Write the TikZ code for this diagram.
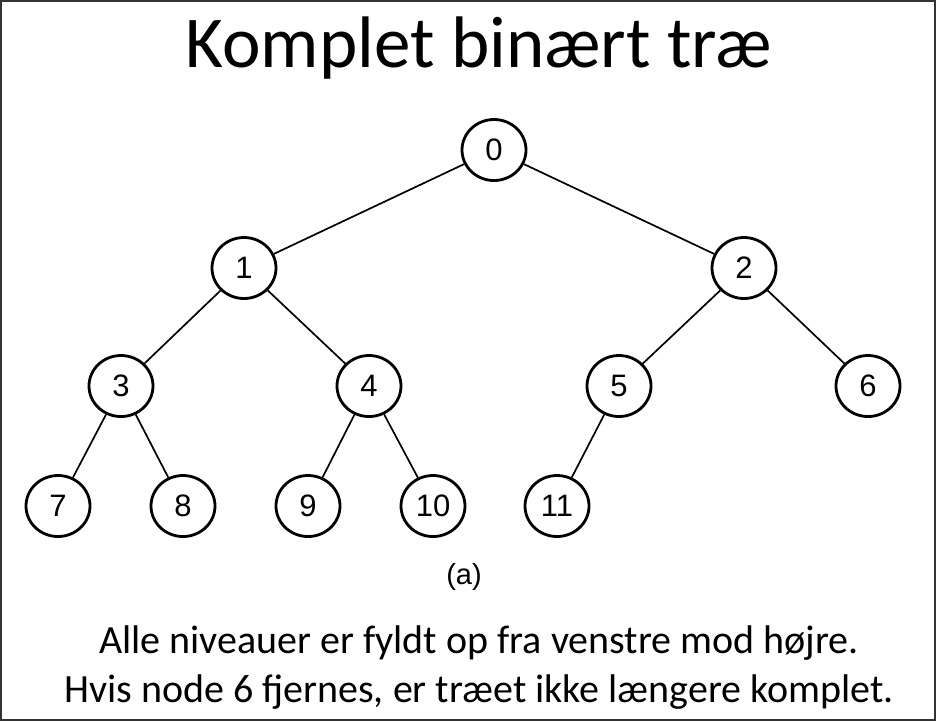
\documentclass[tikz,border=0pt]{standalone}
\usepackage{fontspec}
\setmainfont{Carlito}
\newfontfamily\nodefont{Liberation Sans}
\usetikzlibrary{shapes.geometric}
\tikzset{
  tnode/.style={ellipse,draw,line width=2.8pt,minimum width=64pt,minimum height=61pt,inner sep=0pt,font=\nodefont\fontsize{31}{31}\selectfont},
  conn/.style={line width=1.7pt}}
\begin{document}
\begin{tikzpicture}[x=1pt,y=-1pt]
\useasboundingbox (0,0) rectangle (936,721);
\draw[line width=2pt,draw=black!80] (1,1) rectangle (935,720);
\node[font=\fontsize{73}{73}\selectfont,anchor=base] (title) at (479,67) {Komplet binært træ};
\node[tnode] (n0) at (494,150) {0};
\node[tnode] (n1) at (244,268) {1};
\node[tnode] (n2) at (744,268) {2};
\node[tnode] (n3) at (121,386) {3};
\node[tnode] (n4) at (369,386) {4};
\node[tnode] (n5) at (619,386) {5};
\node[tnode] (n6) at (868,386) {6};
\node[tnode] (n7) at (58,506) {7};
\node[tnode] (n8) at (183,506) {8};
\node[tnode] (n9) at (308,506) {9};
\node[tnode] (n10) at (433,506) {10};
\node[tnode] (n11) at (557,506) {11};
\draw[conn] (n0) -- (n1);
\draw[conn] (n0) -- (n2);
\draw[conn] (n1) -- (n3);
\draw[conn] (n1) -- (n4);
\draw[conn] (n2) -- (n5);
\draw[conn] (n2) -- (n6);
\draw[conn] (n3) -- (n7);
\draw[conn] (n3) -- (n8);
\draw[conn] (n4) -- (n9);
\draw[conn] (n4) -- (n10);
\draw[conn] (n5) -- (n11);
\node[font=\nodefont\fontsize{29}{29}\selectfont] (cap) at (464,577) {(a)};
\node[font=\fontsize{40}{40}\selectfont,anchor=base] (l1) at (479,653) {Alle niveauer er fyldt op fra venstre mod højre.};
\node[font=\fontsize{40}{40}\selectfont,anchor=base] (l2) at (479,702) {Hvis node 6 fjernes, er træet ikke længere komplet.};
\end{tikzpicture}
\end{document}
